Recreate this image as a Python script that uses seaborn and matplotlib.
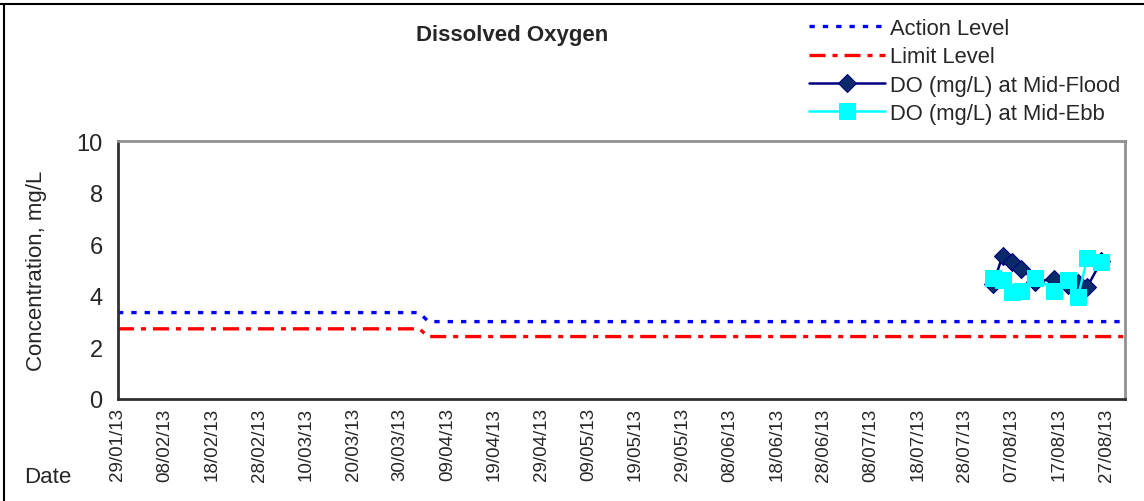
import pandas as pd
import seaborn as sns
import matplotlib.pyplot as plt
import matplotlib.dates as mdates
from matplotlib.lines import Line2D

# poziomy (action / limit) - schodek na początku kwietnia
poziom_daty = ['2013-01-29', '2013-04-03', '2013-04-05', '2013-08-31']
action_level = [3.35, 3.35, 3.0, 3.0]
limit_level = [2.72, 2.72, 2.42, 2.42]

# pomiary DO
pomiar_daty = ['2013-08-03', '2013-08-05', '2013-08-07', '2013-08-09', '2013-08-12',
               '2013-08-16', '2013-08-19', '2013-08-21', '2013-08-23', '2013-08-26']
do_flood = [4.45, 5.55, 5.3, 5.05, 4.55, 4.65, 4.4, 4.5, 4.35, 5.35]
do_ebb = [4.7, 4.6, 4.15, 4.2, 4.7, 4.2, 4.6, 3.95, 5.45, 5.3]

tick_start = '2013-01-29'
tick_end = '2013-08-27'

df_lvl = pd.DataFrame({'Data': pd.to_datetime(poziom_daty),
                       'Action': action_level, 'Limit': limit_level})
df_do = pd.DataFrame({'Data': pd.to_datetime(pomiar_daty),
                      'Flood': do_flood, 'Ebb': do_ebb})

sns.set_style('white')
plt.rcParams['font.family'] = ['Liberation Sans', 'DejaVu Sans']

fig = plt.figure(figsize=(11.44, 5.02), dpi=100)
ax = fig.add_axes([0.1031, 0.2032, 0.8802, 0.5139])

sns.lineplot(data=df_lvl, x='Data', y='Action', ax=ax, color='#0000ff',
             linewidth=2.4, linestyle=(0, (1.6, 2.4)), estimator=None,
             label='Action Level')
sns.lineplot(data=df_lvl, x='Data', y='Limit', ax=ax, color='#ff0000',
             linewidth=2.4, linestyle=(0, (4.8, 2.1, 1.5, 2.1)), estimator=None,
             label='Limit Level')
sns.lineplot(data=df_do, x='Data', y='Flood', ax=ax, color='#000080',
             linewidth=1.8, marker='D', markersize=9,
             markerfacecolor='#0a2a6a', markeredgecolor='#000080',
             estimator=None, label='DO (mg/L) at Mid-Flood')
sns.lineplot(data=df_do, x='Data', y='Ebb', ax=ax, color='#00ffff',
             linewidth=1.8, marker='s', markersize=11,
             markerfacecolor='#00ffff', markeredgecolor='#00ffff',
             estimator=None, label='DO (mg/L) at Mid-Ebb')

ax.set_xlim(pd.Timestamp(tick_start), pd.Timestamp('2013-08-31'))
ax.set_ylim(0, 10)
ax.set_yticks([0, 2, 4, 6, 8, 10])
ax.set_xticks(pd.date_range(tick_start, tick_end, freq='10D'))
ax.xaxis.set_major_formatter(mdates.DateFormatter('%d/%m/%y'))
ax.tick_params(axis='x', direction='in', length=6, width=1, color='#303030',
               labelsize=13.5, rotation=90, pad=6)
ax.tick_params(axis='y', direction='in', length=6, width=1, color='#303030',
               labelsize=17, pad=11)
for lab in ax.get_xticklabels():
    lab.set_verticalalignment('top')

ax.spines['left'].set_color('#303030')
ax.spines['bottom'].set_color('#303030')
ax.spines['left'].set_linewidth(2)
ax.spines['bottom'].set_linewidth(2)
ax.spines['top'].set_color('#909090')
ax.spines['right'].set_color('#909090')
ax.spines['top'].set_linewidth(2)
ax.spines['right'].set_linewidth(2)

ax.set_xlabel('')
ax.set_ylabel('Concentration, mg/L', fontsize=16, labelpad=21)

ax.legend(loc='upper left', bbox_to_anchor=(0.707, 0.962),
          bbox_transform=fig.transFigure, frameon=False, fontsize=15.8,
          handlelength=3.45, handletextpad=0.25, labelspacing=0.33,
          borderpad=0, borderaxespad=0)

fig.text(0.448, 0.93, 'Dissolved Oxygen', fontsize=16, fontweight='bold',
         ha='center', va='center')
fig.text(0.042, 0.048, 'Date', fontsize=16, ha='center', va='center')

# ramka
fig.add_artist(Line2D([0, 1], [0.991, 0.991], transform=fig.transFigure,
                      color='black', linewidth=1.5))
fig.add_artist(Line2D([0.0035, 0.0035], [0, 0.991], transform=fig.transFigure,
                      color='black', linewidth=1.5))

fig.savefig('out.png', dpi=100)
